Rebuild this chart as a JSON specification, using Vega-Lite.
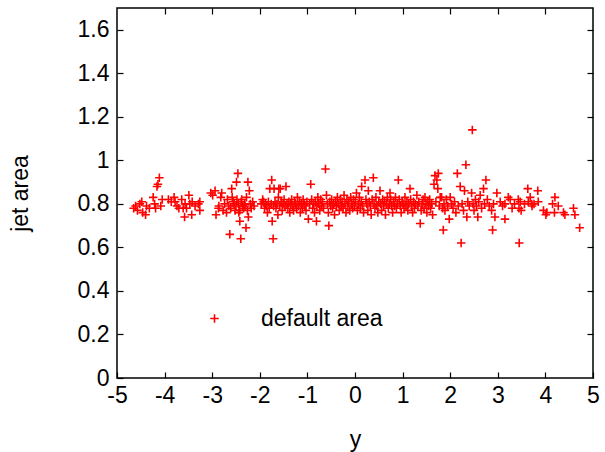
{
  "$schema": "https://vega.github.io/schema/vega-lite/v6.json",
  "width": 476,
  "height": 370,
  "autosize": {"type": "none"},
  "padding": {"left": 117, "top": 8, "right": 12, "bottom": 74},
  "background": "white",
  "config": {
    "view": {"stroke": "#000000", "strokeWidth": 1.5},
    "font": "Liberation Sans",
    "axis": {
      "grid": false, "domain": false, "tickColor": "#000000", "tickWidth": 1.2, "tickSize": -6,
      "labelColor": "#000000", "titleColor": "#000000", "labelFontSize": 23, "titleFontSize": 23,
      "titleFontWeight": "normal", "labelFont": "Liberation Sans", "titleFont": "Liberation Sans",
      "labelFlush": false, "labelOverlap": false
    }
  },
  "data": {"values": [
    {"y":-4.65,"area":0.78},{"y":-4.61,"area":0.79},{"y":-4.57,"area":0.77},{"y":-4.52,"area":0.80},{"y":-4.48,"area":0.81},{"y":-4.46,"area":0.76},{"y":-4.40,"area":0.75},{"y":-4.38,"area":0.79},{"y":-4.32,"area":0.78},{"y":-4.24,"area":0.83},{"y":-4.21,"area":0.80},{"y":-4.19,"area":0.78},{"y":-4.16,"area":0.88},{"y":-4.14,"area":0.89},{"y":-4.11,"area":0.92},{"y":-4.08,"area":0.79},{"y":-4.05,"area":0.82},{"y":-3.92,"area":0.82},{"y":-3.86,"area":0.81},{"y":-3.80,"area":0.83},{"y":-3.78,"area":0.81},{"y":-3.74,"area":0.79},{"y":-3.70,"area":0.78},{"y":-3.64,"area":0.82},{"y":-3.61,"area":0.78},{"y":-3.58,"area":0.74},{"y":-3.57,"area":0.80},{"y":-3.54,"area":0.78},{"y":-3.49,"area":0.84},{"y":-3.47,"area":0.80},{"y":-3.43,"area":0.75},{"y":-3.42,"area":0.81},{"y":-3.36,"area":0.79},{"y":-3.29,"area":0.80},{"y":-3.26,"area":0.81},{"y":-3.26,"area":0.77},
    {"y":-3.03,"area":0.85},{"y":-2.99,"area":0.84},{"y":-2.94,"area":0.86},{"y":-2.92,"area":0.75},{"y":-2.87,"area":0.78},{"y":-2.86,"area":0.79},{"y":-2.82,"area":0.83},{"y":-2.80,"area":0.85},{"y":-2.77,"area":0.77},{"y":-2.74,"area":0.80},{"y":-2.70,"area":0.76},{"y":-2.68,"area":0.82},{"y":-2.65,"area":0.79},{"y":-2.63,"area":0.66},{"y":-2.61,"area":0.78},{"y":-2.59,"area":0.87},{"y":-2.58,"area":0.83},{"y":-2.56,"area":0.81},{"y":-2.54,"area":0.80},{"y":-2.52,"area":0.77},{"y":-2.50,"area":0.79},{"y":-2.49,"area":0.90},{"y":-2.48,"area":0.82},{"y":-2.46,"area":0.94},{"y":-2.45,"area":0.80},{"y":-2.44,"area":0.76},{"y":-2.42,"area":0.77},{"y":-2.42,"area":0.72},{"y":-2.40,"area":0.64},{"y":-2.39,"area":0.81},{"y":-2.38,"area":0.82},{"y":-2.36,"area":0.79},{"y":-2.34,"area":0.78},{"y":-2.32,"area":0.80},{"y":-2.31,"area":0.79},{"y":-2.29,"area":0.69},{"y":-2.28,"area":0.83},{"y":-2.26,"area":0.77},{"y":-2.25,"area":0.90},{"y":-2.24,"area":0.74},{"y":-2.22,"area":0.86},{"y":-2.20,"area":0.80},{"y":-2.18,"area":0.78},{"y":-2.15,"area":0.81},{"y":-2.12,"area":0.79},
    {"y":-1.97,"area":0.80},{"y":-1.94,"area":0.82},{"y":-1.92,"area":0.81},{"y":-1.90,"area":0.78},{"y":-1.88,"area":0.80},{"y":-1.86,"area":0.79},{"y":-1.84,"area":0.76},{"y":-1.82,"area":0.81},{"y":-1.80,"area":0.78},{"y":-1.79,"area":0.87},{"y":-1.76,"area":0.80},{"y":-1.75,"area":0.91},{"y":-1.74,"area":0.72},{"y":-1.72,"area":0.64},{"y":-1.71,"area":0.79},{"y":-1.70,"area":0.87},{"y":-1.68,"area":0.81},{"y":-1.66,"area":0.78},{"y":-1.64,"area":0.80},{"y":-1.62,"area":0.75},{"y":-1.61,"area":0.83},{"y":-1.60,"area":0.87},{"y":-1.58,"area":0.79},{"y":-1.57,"area":0.87},{"y":-1.55,"area":0.81},{"y":-1.53,"area":0.77},{"y":-1.51,"area":0.80},{"y":-1.49,"area":0.82},{"y":-1.47,"area":0.79},{"y":-1.45,"area":0.88},{"y":-1.43,"area":0.80},{"y":-1.41,"area":0.78},{"y":-1.39,"area":0.81},{"y":-1.37,"area":0.76},{"y":-1.35,"area":0.80},{"y":-1.33,"area":0.82},{"y":-1.31,"area":0.79},{"y":-1.29,"area":0.77},{"y":-1.27,"area":0.81},{"y":-1.25,"area":0.80},{"y":-1.23,"area":0.78},{"y":-1.21,"area":0.83},{"y":-1.19,"area":0.79},{"y":-1.17,"area":0.81},{"y":-1.15,"area":0.76},{"y":-1.13,"area":0.80},{"y":-1.11,"area":0.78},{"y":-1.09,"area":0.82},{"y":-1.07,"area":0.80},{"y":-1.05,"area":0.79},{"y":-1.03,"area":0.77},{"y":-1.01,"area":0.81},
    {"y":-0.98,"area":0.73},{"y":-0.95,"area":0.80},{"y":-0.93,"area":0.89},{"y":-0.91,"area":0.82},{"y":-0.89,"area":0.78},{"y":-0.87,"area":0.80},{"y":-0.85,"area":0.76},{"y":-0.83,"area":0.81},{"y":-0.81,"area":0.72},{"y":-0.80,"area":0.79},{"y":-0.78,"area":0.83},{"y":-0.76,"area":0.80},{"y":-0.74,"area":0.77},{"y":-0.72,"area":0.82},{"y":-0.70,"area":0.79},{"y":-0.68,"area":0.81},{"y":-0.66,"area":0.78},{"y":-0.62,"area":0.96},{"y":-0.60,"area":0.84},{"y":-0.58,"area":0.80},{"y":-0.56,"area":0.76},{"y":-0.55,"area":0.70},{"y":-0.53,"area":0.81},{"y":-0.51,"area":0.79},{"y":-0.49,"area":0.82},{"y":-0.47,"area":0.78},{"y":-0.45,"area":0.80},{"y":-0.43,"area":0.75},{"y":-0.41,"area":0.81},{"y":-0.39,"area":0.79},{"y":-0.37,"area":0.83},{"y":-0.35,"area":0.80},{"y":-0.33,"area":0.77},{"y":-0.31,"area":0.82},{"y":-0.29,"area":0.79},{"y":-0.27,"area":0.81},{"y":-0.25,"area":0.78},{"y":-0.23,"area":0.84},{"y":-0.21,"area":0.80},{"y":-0.19,"area":0.76},{"y":-0.17,"area":0.82},{"y":-0.15,"area":0.79},{"y":-0.13,"area":0.81},{"y":-0.11,"area":0.77},{"y":-0.09,"area":0.83},{"y":-0.07,"area":0.80},{"y":-0.05,"area":0.78},{"y":-0.03,"area":0.82},{"y":-0.01,"area":0.79},
    {"y":0.01,"area":0.81},{"y":0.03,"area":0.85},{"y":0.05,"area":0.77},{"y":0.07,"area":0.80},{"y":0.09,"area":0.83},{"y":0.11,"area":0.78},{"y":0.13,"area":0.81},{"y":0.14,"area":0.88},{"y":0.16,"area":0.79},{"y":0.18,"area":0.76},{"y":0.21,"area":0.91},{"y":0.23,"area":0.82},{"y":0.25,"area":0.80},{"y":0.27,"area":0.77},{"y":0.28,"area":0.86},{"y":0.30,"area":0.81},{"y":0.32,"area":0.79},{"y":0.34,"area":0.75},{"y":0.36,"area":0.82},{"y":0.385,"area":0.92},{"y":0.40,"area":0.80},{"y":0.42,"area":0.78},{"y":0.44,"area":0.83},{"y":0.46,"area":0.79},{"y":0.48,"area":0.76},{"y":0.50,"area":0.81},{"y":0.525,"area":0.86},{"y":0.54,"area":0.80},{"y":0.56,"area":0.77},{"y":0.58,"area":0.82},{"y":0.60,"area":0.79},{"y":0.62,"area":0.81},{"y":0.64,"area":0.75},{"y":0.66,"area":0.80},{"y":0.68,"area":0.83},{"y":0.70,"area":0.78},{"y":0.72,"area":0.80},{"y":0.735,"area":0.85},{"y":0.75,"area":0.82},{"y":0.77,"area":0.79},{"y":0.79,"area":0.76},{"y":0.81,"area":0.81},{"y":0.83,"area":0.79},{"y":0.85,"area":0.83},{"y":0.87,"area":0.78},{"y":0.89,"area":0.80},{"y":0.91,"area":0.91},{"y":0.93,"area":0.82},{"y":0.95,"area":0.79},{"y":0.97,"area":0.76},{"y":0.99,"area":0.81},
    {"y":1.01,"area":0.80},{"y":1.03,"area":0.78},{"y":1.05,"area":0.83},{"y":1.07,"area":0.79},{"y":1.09,"area":0.81},{"y":1.11,"area":0.77},{"y":1.13,"area":0.80},{"y":1.155,"area":0.87},{"y":1.17,"area":0.82},{"y":1.19,"area":0.79},{"y":1.21,"area":0.76},{"y":1.23,"area":0.81},{"y":1.25,"area":0.78},{"y":1.27,"area":0.80},{"y":1.30,"area":0.84},{"y":1.32,"area":0.79},{"y":1.34,"area":0.81},{"y":1.37,"area":0.71},{"y":1.39,"area":0.77},{"y":1.41,"area":0.80},{"y":1.43,"area":0.82},{"y":1.45,"area":0.78},{"y":1.47,"area":0.83},{"y":1.49,"area":0.80},{"y":1.51,"area":0.76},{"y":1.53,"area":0.81},{"y":1.55,"area":0.79},{"y":1.57,"area":0.82},{"y":1.59,"area":0.78},{"y":1.61,"area":0.80},{"y":1.63,"area":0.75},{"y":1.66,"area":0.89},{"y":1.68,"area":0.93},{"y":1.70,"area":0.81},{"y":1.72,"area":0.91},{"y":1.74,"area":0.87},{"y":1.75,"area":0.94},{"y":1.77,"area":0.79},{"y":1.79,"area":0.83},{"y":1.82,"area":0.83},{"y":1.84,"area":0.78},{"y":1.855,"area":0.68},{"y":1.87,"area":0.80},{"y":1.89,"area":0.77},{"y":1.92,"area":0.82},{"y":1.95,"area":0.79},{"y":1.98,"area":0.73},{"y":2.00,"area":0.83},
    {"y":2.03,"area":0.80},{"y":2.06,"area":0.78},{"y":2.09,"area":0.81},{"y":2.12,"area":0.76},{"y":2.15,"area":0.94},{"y":2.17,"area":0.79},{"y":2.21,"area":0.88},{"y":2.23,"area":0.62},{"y":2.25,"area":0.80},{"y":2.28,"area":0.77},{"y":2.30,"area":0.86},{"y":2.33,"area":0.98},{"y":2.35,"area":0.74},{"y":2.37,"area":0.81},{"y":2.40,"area":0.79},{"y":2.45,"area":0.85},{"y":2.465,"area":1.14},{"y":2.48,"area":0.80},{"y":2.50,"area":0.77},{"y":2.53,"area":0.82},{"y":2.55,"area":0.79},{"y":2.58,"area":0.74},{"y":2.60,"area":0.81},{"y":2.63,"area":0.84},{"y":2.66,"area":0.78},{"y":2.70,"area":0.87},{"y":2.72,"area":0.80},{"y":2.75,"area":0.91},{"y":2.78,"area":0.82},{"y":2.82,"area":0.79},{"y":2.87,"area":0.77},{"y":2.89,"area":0.68},{"y":2.91,"area":0.80},{"y":2.94,"area":0.74},{"y":2.98,"area":0.85},
    {"y":3.05,"area":0.81},{"y":3.10,"area":0.79},{"y":3.15,"area":0.80},{"y":3.15,"area":0.73},{"y":3.22,"area":0.83},{"y":3.26,"area":0.82},{"y":3.30,"area":0.78},{"y":3.35,"area":0.80},{"y":3.43,"area":0.82},{"y":3.445,"area":0.78},{"y":3.45,"area":0.62},{"y":3.47,"area":0.81},{"y":3.49,"area":0.77},{"y":3.56,"area":0.80},{"y":3.63,"area":0.87},{"y":3.64,"area":0.81},{"y":3.68,"area":0.83},{"y":3.71,"area":0.80},{"y":3.72,"area":0.79},{"y":3.76,"area":0.80},{"y":3.84,"area":0.86},{"y":3.85,"area":0.81},{"y":3.96,"area":0.77},{"y":4.01,"area":0.75},{"y":4.03,"area":0.76},{"y":4.15,"area":0.80},{"y":4.19,"area":0.76},{"y":4.20,"area":0.83},{"y":4.27,"area":0.79},{"y":4.38,"area":0.76},{"y":4.41,"area":0.75},{"y":4.59,"area":0.78},{"y":4.62,"area":0.75},{"y":4.72,"area":0.69}
  ]},
  "layer": [
    {
      "mark": {"type": "point", "shape": "M-1,0H1M0,-1V1", "filled": false, "size": 72, "strokeWidth": 1.6, "opacity": 1},
      "encoding": {
        "x": {"field": "y", "type": "quantitative", "scale": {"domain": [-5, 5], "nice": false, "zero": false},
              "axis": {"title": "y", "values": [-5,-4,-3,-2,-1,0,1,2,3,4,5], "labelExpr": "'' + datum.value", "labelPadding": 12, "titleY": 68, "titleBaseline": "alphabetic"}},
        "y": {"field": "area", "type": "quantitative", "scale": {"domain": [0, 1.7], "nice": false, "zero": false},
              "axis": {"title": "jet area", "values": [0,0.2,0.4,0.6,0.8,1,1.2,1.4,1.6], "labelExpr": "'' + datum.value", "labelPadding": 14, "titleX": -97, "titleY": 185, "titleAlign": "center", "titleBaseline": "middle"}},
        "color": {"datum": "default area", "type": "nominal", "scale": {"range": ["#ff0000"]},
                  "legend": {"title": null, "orient": "none", "legendX": 86, "legendY": 299, "padding": 0, "labelOffset": 35, "labelFontSize": 23, "labelFont": "Liberation Sans", "labelColor": "#000000", "symbolType": "M-1,0H1M0,-1V1", "symbolSize": 72, "symbolStrokeWidth": 1.6, "symbolStrokeColor": "#ff0000", "symbolFillColor": "transparent"}}
      }
    },
    {
      "mark": {"type": "point", "opacity": 0},
      "encoding": {
        "x": {"field": "y", "type": "quantitative", "scale": {"domain": [-5, 5], "nice": false, "zero": false},
              "axis": {"orient": "top", "labels": false, "title": null, "values": [-4,-3,-2,-1,0,1,2,3,4]}},
        "y": {"field": "area", "type": "quantitative", "scale": {"domain": [0, 1.7], "nice": false, "zero": false},
              "axis": {"orient": "right", "labels": false, "title": null, "values": [0.2,0.4,0.6,0.8,1,1.2,1.4,1.6]}}
      }
    }
  ],
  "resolve": {"axis": {"x": "independent", "y": "independent"}}
}
